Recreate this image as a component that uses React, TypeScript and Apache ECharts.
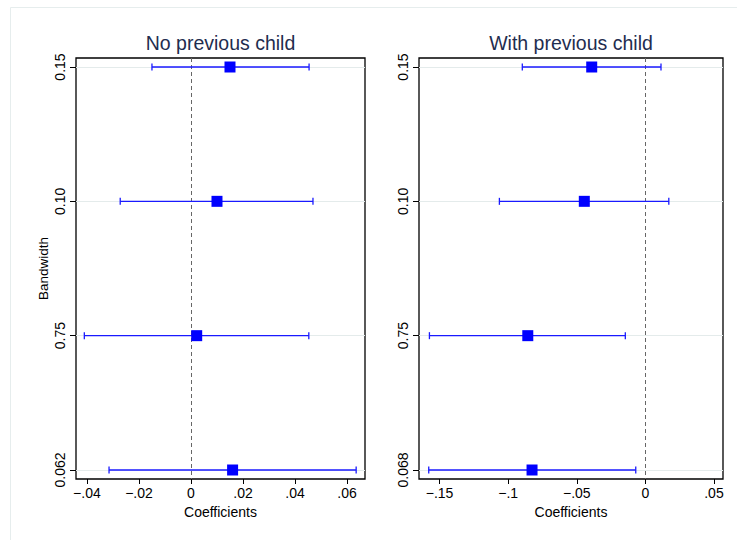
import React, { useEffect, useRef } from "react";
import * as echarts from "echarts";

const leftCategories = ["0.15", "0.10", "0.75", "0.062"];
const rightCategories = ["0.15", "0.10", "0.75", "0.068"];
const rowIndex = [0, 1, 2, 3];

const leftEst = [0.015, 0.01, 0.0022, 0.016];
const leftLo = [-0.015, -0.0272, -0.041, -0.0315];
const leftHi = [0.0454, 0.0469, 0.0453, 0.0635];

const rightEst = [-0.0391, -0.0445, -0.0857, -0.0826];
const rightLo = [-0.0897, -0.1064, -0.1574, -0.1579];
const rightHi = [0.0114, 0.0171, -0.0146, -0.007];

const leftTicks = [-0.04, -0.02, 0, 0.02, 0.04, 0.06];
const rightTicks = [-0.15, -0.1, -0.05, 0, 0.05];

const titles = ["No previous child", "With previous child"];

const FONT = "Liberation Sans, Arial, Helvetica, sans-serif";

function fmt(v: number): string {
  if (Math.abs(v) < 1e-9) return "0";
  const s = parseFloat(Math.abs(v).toFixed(4)).toString().replace(/^0/, "");
  return (v < 0 ? "\u2212" : "") + s;
}

export default function App() {
  const ref = useRef<HTMLDivElement>(null);
  useEffect(() => {
    if (!ref.current) return;
    const chart = echarts.init(ref.current, null, { renderer: "svg" });

    const grids = [
      { left: 76, top: 58, width: 289, height: 421 },
      { left: 419, top: 58, width: 304, height: 421 },
    ];
    const xRanges = [
      [-0.0442, 0.0669],
      [-0.165, 0.0566],
    ];
    const ticks = [leftTicks, rightTicks];
    const cats = [leftCategories, rightCategories];
    const est = [leftEst, rightEst];
    const lo = [leftLo, rightLo];
    const hi = [leftHi, rightHi];

    const barColor = "#1a1aff";

    const series: any[] = [];
    [0, 1].forEach((i) => {
      series.push({
        type: "scatter",
        xAxisIndex: i,
        yAxisIndex: i,
        data: [],
        z: 1,
        silent: true,
        markLine: {
          z: 1,
          silent: true,
          symbol: "none",
          label: { show: false },
          animation: false,
          data: [
            ...rowIndex.map((r) => ({
              yAxis: r,
              lineStyle: { color: "#e4ebeb", width: 1, type: "solid" },
            })),
            { xAxis: 0, lineStyle: { color: "#666", width: 1, type: [4, 3] } },
          ],
        },
      });
      series.push({
        type: "custom",
        xAxisIndex: i,
        yAxisIndex: i,
        z: 3,
        silent: true,
        encode: { x: [0, 1], y: 2 },
        data: rowIndex.map((r) => [lo[i][r], hi[i][r], r]),
        renderItem: (params: any, api: any) => {
          const a = api.coord([api.value(0), api.value(2)]);
          const b = api.coord([api.value(1), api.value(2)]);
          const h = 3.5;
          const style = { stroke: barColor, lineWidth: 1.3 };
          return {
            type: "group",
            children: [
              { type: "line", shape: { x1: a[0], y1: a[1], x2: b[0], y2: b[1] }, style },
              { type: "line", shape: { x1: a[0], y1: a[1] - h, x2: a[0], y2: a[1] + h }, style },
              { type: "line", shape: { x1: b[0], y1: b[1] - h, x2: b[0], y2: b[1] + h }, style },
            ],
          };
        },
      });
      series.push({
        type: "scatter",
        xAxisIndex: i,
        yAxisIndex: i,
        z: 4,
        symbol: "rect",
        symbolSize: 11,
        itemStyle: { color: "#0000ff", opacity: 1 },
        data: rowIndex.map((r) => [est[i][r], r]),
      });
    });

    chart.setOption({
      animation: false,
      backgroundColor: "#ffffff",
      textStyle: { fontFamily: FONT },
      graphic: [
        {
          type: "rect",
          silent: true,
          shape: { x: 10.5, y: 7.5, width: 760, height: 560 },
          style: { fill: "none", stroke: "#e6eded", lineWidth: 1 },
          z: -10,
        },
        ...titles.map((t, i) => ({
          type: "text",
          x: i === 0 ? 220.5 : 571,
          y: 43,
          style: {
            text: t,
            fontSize: 19.5,
            fontFamily: FONT,
            fill: "#1f2d4f",
            align: "center",
            verticalAlign: "middle",
          },
        })),
      ],
      grid: grids.map((g) => ({
        ...g,
        show: true,
        borderColor: "#000",
        borderWidth: 1.3,
        backgroundColor: "transparent",
        containLabel: false,
      })),
      xAxis: [0, 1].map((i) => ({
        type: "value",
        gridIndex: i,
        min: xRanges[i][0],
        max: xRanges[i][1],
        position: "bottom",
        name: "Coefficients",
        nameLocation: "middle",
        nameGap: 22,
        nameTextStyle: { fontSize: 14, color: "#000", fontFamily: FONT },
        axisLine: { show: false, onZero: false },
        splitLine: { show: false },
        axisTick: {
          show: true,
          customValues: ticks[i],
          length: 5,
          lineStyle: { color: "#000", width: 1 },
        },
        axisLabel: {
          customValues: ticks[i],
          formatter: (v: number) => fmt(v),
          fontSize: 14,
          color: "#000",
          margin: 7,
          fontFamily: FONT,
        },
      })),
      yAxis: [0, 1].map((i) => ({
        type: "value",
        gridIndex: i,
        min: -0.067,
        max: 3.067,
        inverse: true,
        position: "left",
        name: i === 0 ? "Bandwidth" : "",
        nameLocation: "middle",
        nameGap: 26,
        nameTextStyle: { fontSize: 13.5, color: "#000", fontFamily: FONT },
        axisLine: { show: false, onZero: false },
        splitLine: { show: false },
        axisTick: {
          show: true,
          customValues: rowIndex,
          length: 6,
          lineStyle: { color: "#000", width: 1 },
        },
        axisLabel: {
          customValues: rowIndex,
          rotate: 90,
          formatter: (v: number) => cats[i][Math.round(v)] ?? "",
          fontSize: 14,
          color: "#000",
          margin: 9,
          fontFamily: FONT,
        },
      })),
      series,
    });

    return () => chart.dispose();
  }, []);

  return (
    <div
      ref={ref}
      style={{ position: "fixed", left: 0, top: 0, width: 737, height: 540 }}
    />
  );
}
